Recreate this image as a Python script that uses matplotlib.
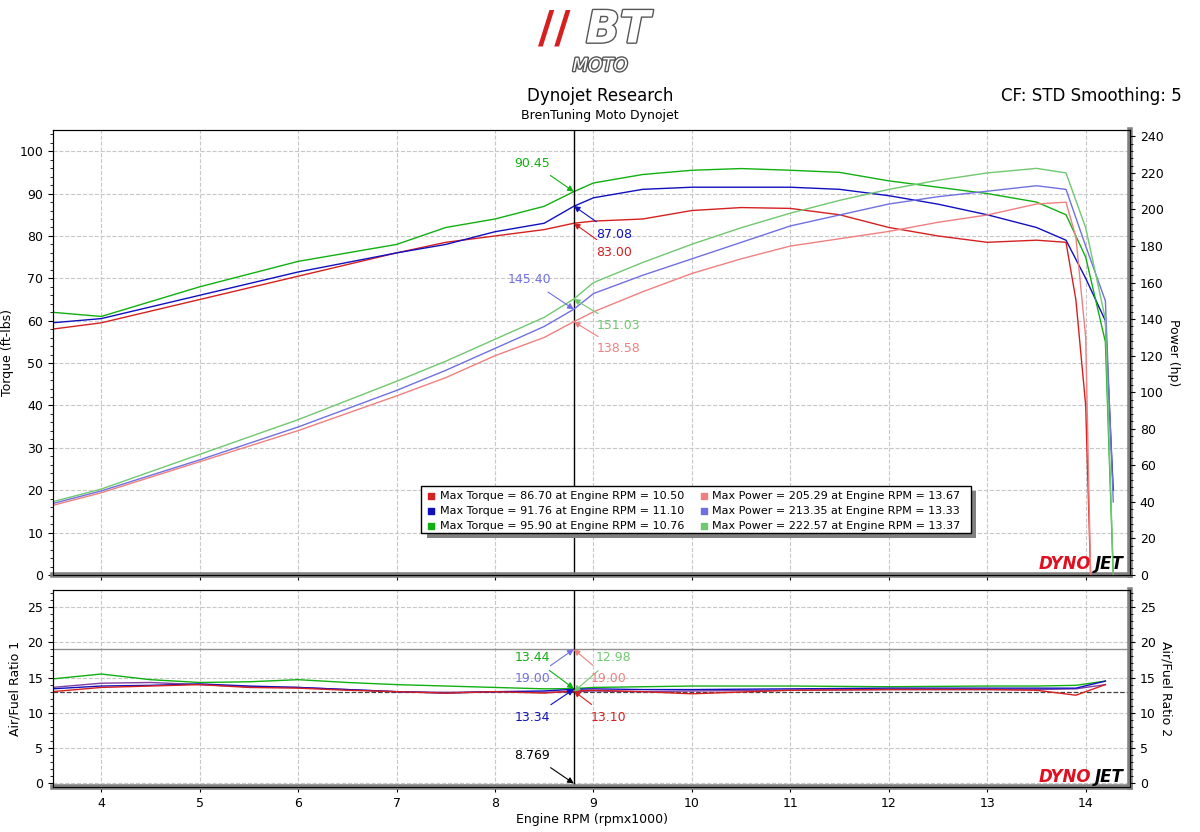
import numpy as np
import matplotlib.pyplot as plt
import matplotlib.patheffects as pe
from matplotlib.ticker import MultipleLocator

rpm_t = [3.5, 4.0, 5.0, 6.0, 7.0, 7.5, 8.0, 8.5, 8.8, 9.0, 9.5, 10.0, 10.5, 11.0, 11.5, 12.0, 12.5, 13.0, 13.5, 13.8, 13.9, 14.0, 14.05]
tq_red = [58, 59.5, 65, 70.5, 76, 78.5, 80, 81.5, 83, 83.5, 84, 86, 86.7, 86.5, 85, 82, 80, 78.5, 79, 78.5, 65, 40, 0]
hp_red = [38, 45, 62, 79, 98, 108, 120, 130, 138.6, 144, 155, 165, 173, 180, 184, 188, 193, 197, 203, 204, 185, 130, 0]

rpm_b = [3.5, 4.0, 5.0, 6.0, 7.0, 7.5, 8.0, 8.5, 8.8, 9.0, 9.5, 10.0, 10.5, 11.0, 11.5, 12.0, 12.5, 13.0, 13.5, 13.8, 14.0, 14.2, 14.28]
tq_blue = [59.5, 60.5, 66, 71.5, 76, 78, 81, 83, 87, 89, 91, 91.5, 91.5, 91.5, 91, 89.5, 87.5, 85, 82, 79, 70, 60, 20]
hp_blue = [39, 46, 63, 81, 101, 112, 124, 136, 145.4, 154, 164, 173, 182, 191, 197, 203, 207, 210, 213, 211, 180, 150, 40]
tq_green = [62, 61, 68, 74, 78, 82, 84, 87, 90.45, 92.5, 94.5, 95.5, 95.9, 95.5, 95, 93, 91.5, 90, 88, 85, 75, 55, 0]
hp_green = [40, 47, 66, 85, 106, 117, 129, 141, 151, 160, 171, 181, 190, 198, 205, 211, 216, 220, 222.5, 220, 190, 140, 0]

afr_rpm = [3.5, 4.0, 4.5, 5.0, 5.5, 6.0, 6.5, 7.0, 7.5, 8.0, 8.5, 8.8, 9.0, 9.5, 10.0, 11.0, 12.0, 13.0, 13.5, 13.9, 14.2]
afr_red = [13.0, 13.6, 13.8, 14.0, 13.6, 13.5, 13.2, 13.0, 12.8, 13.0, 12.8, 13.1, 13.2, 13.0, 12.7, 13.2, 13.3, 13.3, 13.2, 12.5, 14.0]
afr_blue = [13.4, 13.8, 13.9, 14.1, 13.8, 13.6, 13.3, 13.0, 12.8, 13.0, 13.1, 13.34, 13.4, 13.3, 13.3, 13.4, 13.5, 13.5, 13.5, 13.5, 14.5]
afr_green = [14.8, 15.5, 14.7, 14.3, 14.4, 14.7, 14.3, 14.0, 13.8, 13.6, 13.4, 13.44, 13.6, 13.7, 13.8, 13.8, 13.7, 13.8, 13.8, 13.9, 14.5]
afr_purple = [13.6, 14.2, 14.3, 14.0, 13.7, 13.6, 13.3, 13.0, 12.9, 13.0, 12.9, 13.0, 13.1, 13.0, 13.1, 13.2, 13.3, 13.3, 13.3, 13.4, 14.0]

legend_rows = [
    ("#d62020", "Max Torque = 86.70 at Engine RPM = 10.50", "#f08080", "Max Power = 205.29 at Engine RPM = 13.67"),
    ("#1010c0", "Max Torque = 91.76 at Engine RPM = 11.10", "#7070e0", "Max Power = 213.35 at Engine RPM = 13.33"),
    ("#10b010", "Max Torque = 95.90 at Engine RPM = 10.76", "#70c870", "Max Power = 222.57 at Engine RPM = 13.37"),
]

plt.rcParams['font.family'] = ['DejaVu Sans']
fig = plt.figure(figsize=(12, 8.32), dpi=100)
W, H = 1200, 832
ax = fig.add_axes([53 / W, 1 - 575 / H, 1077 / W, 445 / H])
ax2 = ax.twinx()
bx = fig.add_axes([53 / W, 1 - 787 / H, 1077 / W, 197 / H])
bx2 = bx.twinx()

grid = dict(color='#c8c8c8', ls='--', lw=0.8)
for a in (ax, bx):
    a.set_xlim(3.51, 14.45)
    a.grid(True, **grid)
    a.set_xticks(range(4, 15))
    a.tick_params(labelsize=9)
ax.set_xticklabels([])
ax.set_ylim(0, 105)
ax.set_yticks(range(0, 101, 10))
ax.yaxis.set_minor_locator(MultipleLocator(2))
ax2.set_ylim(0, 243.5)
ax2.set_yticks(range(0, 241, 20))
ax2.yaxis.set_minor_locator(MultipleLocator(4))
for a in (bx, bx2):
    a.set_ylim(-0.5, 27.4)
    a.set_yticks(range(0, 26, 5))
    a.yaxis.set_minor_locator(MultipleLocator(1))
for a in (ax2, bx2):
    a.tick_params(labelsize=9)
ax.set_ylabel("Torque (ft-lbs)", fontsize=9)
ax2.set_ylabel("Power (hp)", fontsize=9, rotation=270, labelpad=12)
bx.set_ylabel("Air/Fuel Ratio 1", fontsize=9)
bx2.set_ylabel("Air/Fuel Ratio 2", fontsize=9, rotation=270, labelpad=12)
bx.set_xlabel("Engine RPM (rpmx1000)", fontsize=9, labelpad=2)

ax.plot(rpm_t, tq_red, color='#d62020', lw=1)
ax.plot(rpm_b, tq_blue, color='#1010c0', lw=1)
ax.plot(rpm_b, tq_green, color='#10b010', lw=1)
ax2.plot(rpm_t, hp_red, color='#f08080', lw=1)
ax2.plot(rpm_b, hp_blue, color='#7070e0', lw=1)
ax2.plot(rpm_b, hp_green, color='#70c870', lw=1)

bx.axhline(12.9, color='#404040', ls='--', lw=0.9)
bx.axhline(19, color='#909090', lw=1)
bx.plot(afr_rpm, afr_green, color='#10b010', lw=1)
bx.plot(afr_rpm, afr_purple, color='#8040a0', lw=1)
bx.plot(afr_rpm, afr_blue, color='#1010c0', lw=1)
bx.plot(afr_rpm, afr_red, color='#d62020', lw=1)

cur = 8.8
ax.axvline(cur, color='black', lw=1)
bx.axvline(cur, color='black', lw=1)

def ann(a, y, txt, col, tx, ty):
    a.annotate(txt, xy=(cur, y), xytext=(tx, ty), color=col, fontsize=9,
               ha='center', va='center',
               arrowprops=dict(arrowstyle='-|>', color=col, lw=0.8, shrinkA=4, shrinkB=0))

ann(ax, 90.45, "90.45", '#10b010', 8.38, 97.2)
ann(ax, 87.08, "87.08", '#1010c0', 9.21, 80.4)
ann(ax, 83.0, "83.00", '#d62020', 9.21, 76.2)
ann(ax2, 145.4, "145.40", '#7070e0', 8.35, 161.6)
ann(ax2, 151.03, "151.03", '#70c870', 9.25, 136.4)
ann(ax2, 138.58, "138.58", '#f08080', 9.25, 123.8)
ann(bx, 13.44, "13.44", '#10b010', 8.38, 17.8)
ann(bx, 19.0, "19.00", '#7070e0', 8.38, 14.9)
ann(bx, 13.0, "12.98", '#70c870', 9.2, 17.8)
ann(bx, 19.0, "19.00", '#f08080', 9.15, 14.9)
ann(bx, 13.34, "13.34", '#1010c0', 8.38, 9.4)
ann(bx, 13.1, "13.10", '#d62020', 9.15, 9.4)
ann(bx, 0.0, "8.769", 'black', 8.38, 4.0)

# legend box
lx, ly = 0.342, 0.195
ax.add_patch(plt.Rectangle((lx + 0.005, ly - 0.112), 0.51, 0.105, transform=ax.transAxes,
                           facecolor='#808080', zorder=5))
ax.add_patch(plt.Rectangle((lx, ly - 0.1), 0.51, 0.105, transform=ax.transAxes,
                           facecolor='white', edgecolor='black', lw=1, zorder=6))
for i, (c1, t1, c2, t2) in enumerate(legend_rows):
    yy = ly - 0.018 - i * 0.033
    ax.scatter([lx + 0.009], [yy], marker='s', s=18, color=c1, transform=ax.transAxes, zorder=7)
    ax.text(lx + 0.017, yy, t1, transform=ax.transAxes, fontsize=8, va='center', zorder=7)
    ax.scatter([lx + 0.262], [yy], marker='s', s=18, color=c2, transform=ax.transAxes, zorder=7)
    ax.text(lx + 0.27, yy, t2, transform=ax.transAxes, fontsize=8, va='center', zorder=7)

for a in (ax, bx):
    a.text(0.915, 0.005, "DYNO", transform=a.transAxes, color='#e01020', fontsize=12,
           fontweight='bold', style='italic', ha='left', va='bottom', zorder=8)
    a.text(0.994, 0.005, "JET", transform=a.transAxes, color='black', fontsize=12,
           fontweight='bold', style='italic', ha='right', va='bottom', zorder=9)
    for s in ('right', 'bottom'):
        a.spines[s].set_linewidth(4)
        a.spines[s].set_color('#808080')

# header
fig.text(0.5, 1 - 96 / H, "Dynojet Research", ha='center', va='center', fontsize=12)
fig.text(0.5, 1 - 115 / H, "BrenTuning Moto Dynojet", ha='center', va='center', fontsize=9)
fig.text(0.985, 1 - 96 / H, "CF: STD Smoothing: 5", ha='right', va='center', fontsize=12)
t1 = fig.text(0.462, 1 - 30 / H, "//", ha='center', va='center', fontsize=32, fontweight='bold',
              color='#d42020')
t2 = fig.text(0.515, 1 - 30 / H, "BT", ha='center', va='center', fontsize=32, fontweight='bold',
              style='italic', color='white')
t3 = fig.text(0.5, 1 - 66 / H, "MOTO", ha='center', va='center', fontsize=13, style='italic',
              color='white')
for t in (t2, t3):
    t.set_path_effects([pe.withStroke(linewidth=2, foreground='#555555')])

fig.savefig("out.png", dpi=100)
